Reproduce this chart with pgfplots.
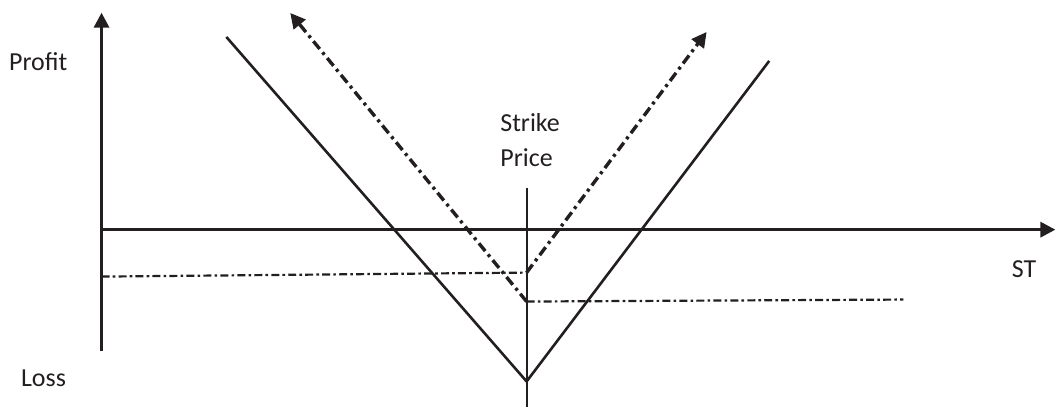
\documentclass[border=0pt]{standalone}
\usepackage{fontspec}
\setmainfont{Carlito}
\usepackage{pgfplots}
\pgfplotsset{compat=1.18}
\usetikzlibrary{arrows.meta}
\definecolor{ink}{HTML}{231F20}
\tikzset{
  tip/.style={-{Triangle[length=7.5pt,width=7.5pt]}},
  % long option legs: dash-dot with arrow
  leg/.style={draw=ink, line width=1.7pt, tip,
    dash pattern=on 5pt off 2.2pt on 1.5pt off 2.2pt},
  % premium floors: thinner dash-dot
  floor/.style={draw=ink, line width=1.1pt,
    dash pattern=on 4pt off 1.6pt on 1.3pt off 1.6pt},
  lbl/.style={text=ink, inner sep=0pt},
}
\begin{document}
\begin{tikzpicture}
\begin{axis}[
  x=0.5pt, y=0.5pt,          % one unit = one pixel of the reference
  xmin=0, xmax=955.3, ymin=-122, ymax=217.3,
  axis lines=middle,
  axis line style={draw=ink, line width=1.6pt, tip},
  xtick=\empty, ytick=\empty,
  clip=false,
  font=\fontsize{13}{15}\selectfont,
]
% straddle payoff (solid V)
\addplot[draw=ink, line width=1.3pt] coordinates {(125,193) (425.7,-152) (668.7,169)};
% strike price marker
\addplot[draw=ink, line width=1.1pt] coordinates {(425.7,42) (425.7,-178)};
% long call: flat loss then up
\addplot[floor] coordinates {(0,-47) (425.7,-43)};
\addplot[leg] coordinates {(425.7,-43) (606,198)};
% long put: up to the left, flat loss to the right
\addplot[leg] coordinates {(425.7,-72) (189,217)};
\addplot[floor] coordinates {(425.7,-72) (803,-70)};

\node[lbl, anchor=base west] at (axis cs:-93,159.3) {Profit};
\node[lbl, anchor=base west] at (axis cs:-81,-157) {Loss};
\node[lbl, anchor=base west] at (axis cs:399,98.3) {Strike};
\node[lbl, anchor=base west] at (axis cs:399,63.3) {Price};
\node[lbl, anchor=base west] at (axis cs:911.3,-48) {ST};

\path (axis cs:-101.7,-178) rectangle (axis cs:955.3,230);
\end{axis}
\end{tikzpicture}
\end{document}
